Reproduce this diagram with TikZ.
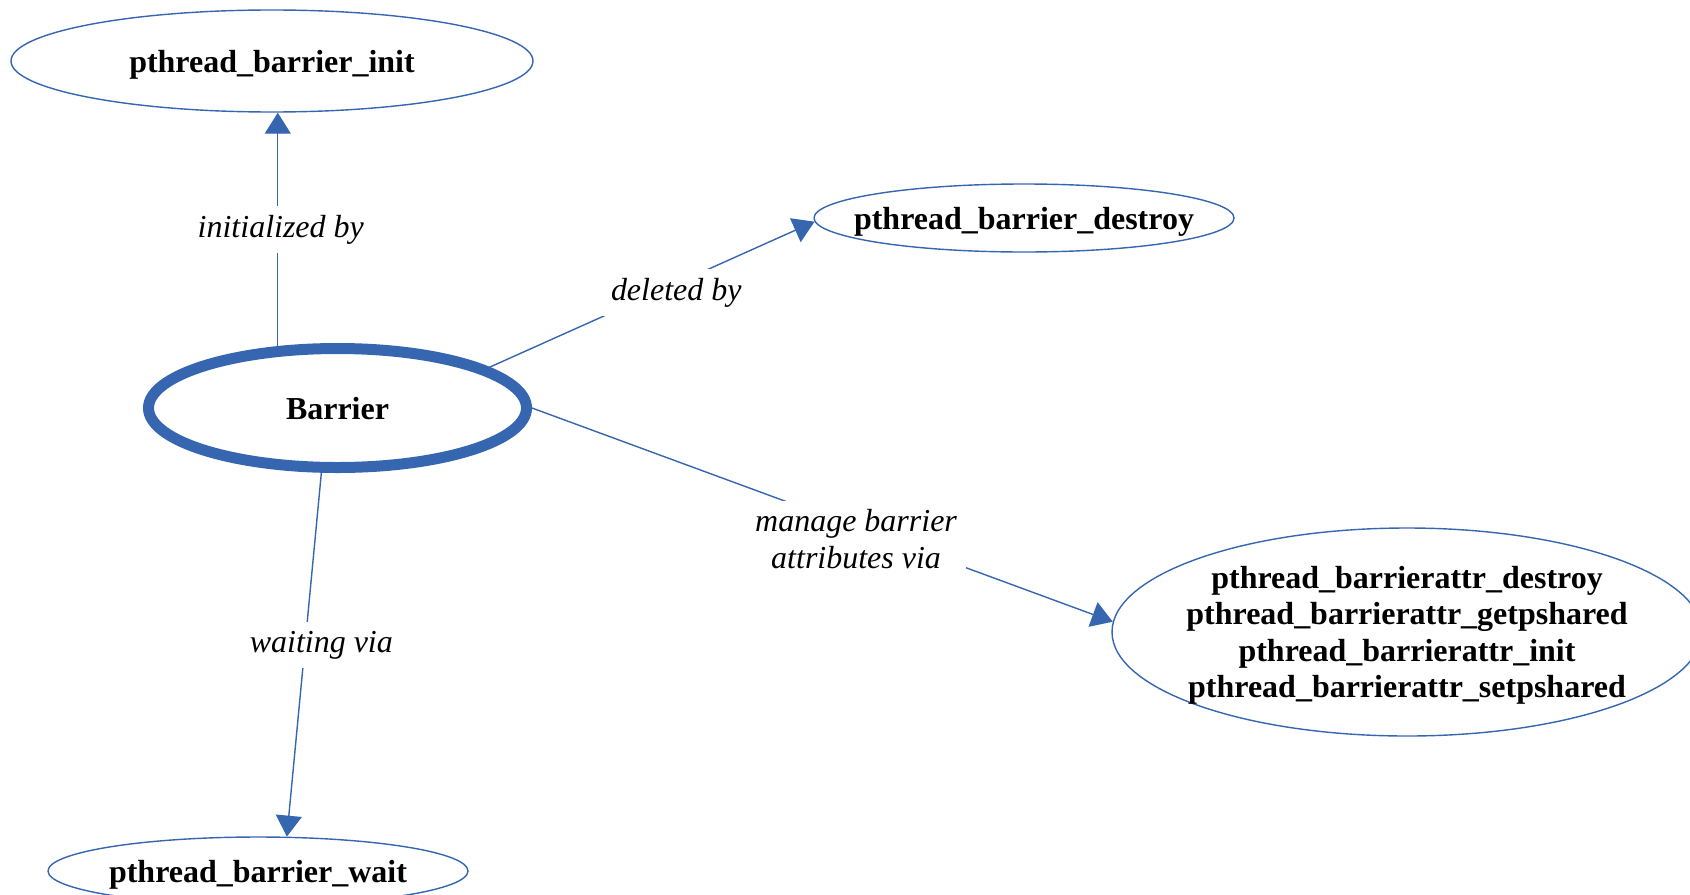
\documentclass[tikz,border=0pt]{standalone}
\usepackage{fontspec}
\setmainfont{Liberation Serif}
\usepackage{tikz}
\usetikzlibrary{shapes.geometric,arrows.meta,positioning}
\definecolor{barblue}{RGB}{55,102,177}
\tikzset{
  func/.style={ellipse, draw=barblue, line width=0.4pt, inner sep=0pt, align=center, text depth=0pt,
    font=\fontsize{9.1pt}{10.4pt}\selectfont\bfseries},
  core/.style={func, line width=0.11cm},
  wide/.style={inner xsep=-0.6cm},
  rel/.style={draw=barblue, line width=0.4pt, -{Triangle[length=0.21cm,width=0.26cm]}},
  lbl/.style={fill=white, inner sep=2.5pt, align=center,
    font=\fontsize{9.1pt}{10.4pt}\selectfont\itshape}
}
\begin{document}
\begin{tikzpicture}
    \useasboundingbox (0,0) rectangle (16.9,8.94);
    % the barrier and its functions
    \node[core, minimum width=3.78cm, minimum height=1.19cm] (barrier) at (3.375,4.86) {Barrier};
    \node[func, minimum width=5.22cm, minimum height=1.02cm] (init) at (2.72,8.33) {pthread\_barrier\_init};
    \node[func, wide, minimum width=4.2cm, minimum height=0.68cm] (destroy) at (10.24,6.76) {pthread\_barrier\_destroy};
    \node[func, wide, minimum width=5.9cm, minimum height=2.08cm] (attr) at (14.07,2.62)
        {pthread\_barrierattr\_destroy\\pthread\_barrierattr\_getpshared\\pthread\_barrierattr\_init\\pthread\_barrierattr\_setpshared};
    \node[func, wide, minimum width=4.2cm, minimum height=0.68cm] (wait) at (2.58,0.23) {pthread\_barrier\_wait};

    % relations
    \draw[rel] (barrier.134) -- (barrier.134 |- init.south) node[lbl, pos=0.5, xshift=0.03cm] (lbinit) {initialized by};
    \draw[rel] (barrier.15) -- (destroy.181) node[lbl, pos=0.575, yshift=-0.09cm] (lbdel) {deleted by};
    \draw[rel] (barrier.east) -- (attr.178) node[lbl, pos=0.558, yshift=-0.12cm] (lbattr) {manage barrier\\attributes via};
    \draw[rel] (barrier.256) -- (wait.50) node[lbl, pos=0.465, xshift=0.16cm, yshift=-0.03cm] (lbwait) {waiting via};
\end{tikzpicture}
\end{document}
